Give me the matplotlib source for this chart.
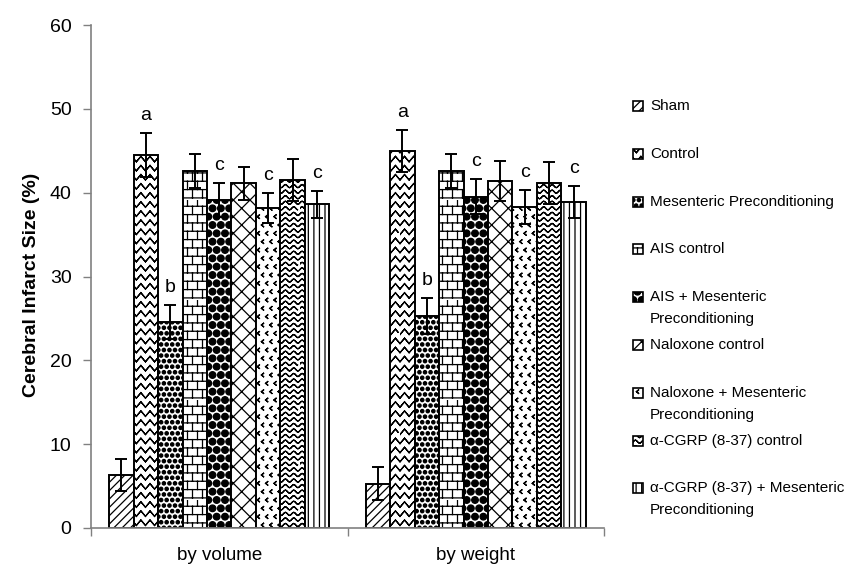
import warnings
warnings.filterwarnings('ignore')
import numpy as np
import matplotlib
matplotlib.use('Agg')
import matplotlib.pyplot as plt
import matplotlib.hatch as mhatch
from matplotlib.path import Path
from matplotlib.patches import Rectangle

# ---------------- data ----------------
categories = ['by volume', 'by weight']
groups = ['Sham', 'Control', 'Mesenteric Preconditioning', 'AIS control',
          'AIS + Mesenteric\nPreconditioning', 'Naloxone control',
          'Naloxone + Mesenteric\nPreconditioning', 'α-CGRP (8-37) control',
          'α-CGRP (8-37) + Mesenteric\nPreconditioning']
means_volume = [6.3, 44.5, 24.6, 42.6, 39.1, 41.1, 38.2, 41.5, 38.6]
err_volume = [1.9, 2.6, 2.0, 2.0, 2.0, 2.0, 1.8, 2.5, 1.6]
means_weight = [5.3, 45.0, 25.3, 42.6, 39.5, 41.4, 38.3, 41.2, 38.9]
err_weight = [2.0, 2.5, 2.1, 2.0, 2.1, 2.4, 2.0, 2.5, 1.9]
sig_letters = ['', 'a', 'b', '', 'c', '', 'c', '', 'c']
y_ticks = [0, 10, 20, 30, 40, 50, 60]


# ---------------- custom hatches ----------------
def _retrace(xs, ys):
    """Polyline drawn forward then backward so Agg's hatch fill adds no area."""
    fx = np.concatenate([xs, xs[-2::-1]])
    fy = np.concatenate([ys, ys[-2::-1]])
    return fx, fy


class RowHatch(mhatch.HatchPatternBase):
    char = '~'
    periods = 12
    per_period = 8
    amp_frac = 0.28
    rows_per_char = None

    def __init__(self, hatch, density):
        cnt = hatch.count(self.char)
        per = self.rows_per_char if self.rows_per_char else density
        self.num_rows = int(cnt * per)
        self.pts = self.periods * self.per_period + 1
        self.num_vertices = self.num_rows * (2 * self.pts - 1)

    def profile(self, x):
        return np.sin(2 * np.pi * self.periods * x)

    def set_vertices_and_codes(self, vertices, codes):
        x = np.linspace(0, 1, self.pts)
        amp = self.amp_frac / self.num_rows
        prof = self.profile(x)
        L = 2 * self.pts - 1
        k = 0
        for i in range(self.num_rows):
            y0 = (i + 0.5) / self.num_rows
            fx, fy = _retrace(x, y0 + amp * prof)
            vertices[k:k + L, 0] = fx
            vertices[k:k + L, 1] = fy
            codes[k] = Path.MOVETO
            codes[k + 1:k + L] = Path.LINETO
            k += L


class WaveHatch(RowHatch):
    char = '~'
    periods = 12
    per_period = 8
    amp_frac = 0.28


class ZigzagHatch(RowHatch):
    char = 'z'
    periods = 11
    per_period = 2
    amp_frac = 0.3
    rows_per_char = 11

    def profile(self, x):
        return np.where(np.arange(len(x)) % 2 == 0, -1.0, 1.0)


class BrickHatch(mhatch.HatchPatternBase):
    def __init__(self, hatch, density):
        n = int(hatch.count('b') * density)
        self.n = n
        self.m = 10
        self.num_vertices = (n * 2 + n * self.m * 2) if n else 0

    def set_vertices_and_codes(self, vertices, codes):
        n, m = self.n, self.m
        k = 0
        for i in range(n):
            y = (i + 0.25) / n
            vertices[k] = (0, y)
            vertices[k + 1] = (1, y)
            codes[k] = Path.MOVETO
            codes[k + 1] = Path.LINETO
            k += 2
        for i in range(n):
            y0 = (i + 0.25) / n
            y1 = (i + 1.25) / n
            for j in range(m):
                x = (j + 0.25 + 0.5 * (i % 2)) / m
                vertices[k] = (x, y0)
                vertices[k + 1] = (x, y1)
                codes[k] = Path.MOVETO
                codes[k + 1] = Path.LINETO
                k += 2


class DotsHatch(mhatch.Circles):
    size = 0.3
    filled = True

    def __init__(self, hatch, density):
        self.num_rows = hatch.count('d') * density
        super().__init__(hatch, density)


class BlobsHatch(mhatch.Circles):
    size = 0.4
    filled = True

    def __init__(self, hatch, density):
        self.num_rows = hatch.count('Q') * density
        super().__init__(hatch, density)


class ChevronHatch(mhatch.Shapes):
    size = 0.22
    filled = False

    def __init__(self, hatch, density):
        self.shape_vertices = np.array([[0.6, 1.0], [-0.6, 0.0], [0.6, -1.0]])
        self.shape_codes = np.array([Path.MOVETO, Path.LINETO, Path.LINETO],
                                    dtype=Path.code_type)
        self.num_rows = hatch.count('<') * density
        super().__init__(hatch, density)


mhatch._hatch_types.extend([WaveHatch, ZigzagHatch, BrickHatch,
                            DotsHatch, BlobsHatch, ChevronHatch])

hatches = ['////', 'z', 'ddd', 'bb', 'QQ', 'xx', '<<', '~~~', '|||']

# ---------------- style ----------------
plt.rcParams['font.family'] = ['Liberation Sans', 'DejaVu Sans']
plt.rcParams['hatch.linewidth'] = 0.9
W, H = 860, 568
fig = plt.figure(figsize=(W / 100, H / 100), dpi=100)
ax_left, ax_right, ax_top, ax_bottom = 91, 604, 25, 528
ax = fig.add_axes([ax_left / W, 1 - ax_bottom / H,
                   (ax_right - ax_left) / W, (ax_bottom - ax_top) / H])

n = len(groups)
x = np.arange(len(categories))
bw = 0.0955
series = [list(v) for v in zip(means_volume, means_weight)]
errs = [list(v) for v in zip(err_volume, err_weight)]

for i in range(n):
    pos = x + (i - (n - 1) / 2) * bw
    ax.bar(pos, series[i], bw, yerr=errs[i], facecolor='white',
           edgecolor='black', linewidth=1.4, hatch=hatches[i],
           error_kw=dict(ecolor='black', elinewidth=1.4, capsize=4.3,
                         capthick=1.4))
    if sig_letters[i]:
        for j in range(len(categories)):
            ax.text(pos[j], series[i][j] + errs[i][j] + 2.1, sig_letters[i],
                    ha='center', va='center', fontsize=14)

ax.set_xlim(-0.5, len(categories) - 0.5)
ax.set_ylim(0, 60)
ax.set_yticks(y_ticks)
ax.set_yticklabels([str(t) for t in y_ticks], fontsize=14)
ax.set_xticks(np.arange(len(categories) + 1) - 0.5)
ax.set_xticklabels([])
ax.set_xticks(x, minor=True)
ax.set_xticklabels(categories, minor=True, fontsize=13.5)
ax.tick_params(axis='x', which='minor', length=0, pad=14)
ax.tick_params(axis='x', which='major', length=6, color='#808080', width=1)
ax.tick_params(axis='y', length=6, color='#808080', width=1, pad=8)
for s in ['top', 'right']:
    ax.spines[s].set_visible(False)
for s in ['left', 'bottom']:
    ax.spines[s].set_color('#808080')
    ax.spines[s].set_linewidth(1.2)

fig.text(32 / W, 1 - 285 / H, 'Cerebral Infarct Size (%)', rotation=90,
         ha='center', va='center', fontsize=14, fontweight='bold')

# ---------------- legend ----------------
leg_box_x, leg_text_x = 633, 650
leg_top, leg_step, line_step = 106, 47.8, 22
box = 10
for i, lab in enumerate(groups):
    y = leg_top + i * leg_step
    fig.patches.append(Rectangle(((leg_box_x) / W, 1 - (y + box / 2) / H),
                                 box / W, box / H, transform=fig.transFigure,
                                 facecolor='white', edgecolor='black',
                                 linewidth=1.2, hatch=hatches[i]))
    for k, line in enumerate(lab.split('\n')):
        fig.text(leg_text_x / W, 1 - (y + k * line_step) / H, line,
                 ha='left', va='center', fontsize=11)

fig.savefig('out.png', dpi=100)
